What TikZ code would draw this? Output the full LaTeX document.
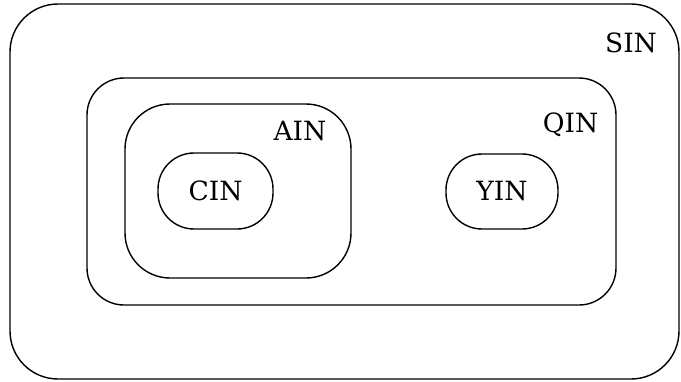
\documentclass[tikz,border=0pt]{standalone}
\usepackage{fontspec}
\newfontfamily\regionfont{DejaVu Serif}
\begin{document}
\begin{tikzpicture}[x=1pt,y=-1pt,
  region/.style={draw=black, line width=1.4pt, inner sep=0pt, outer sep=0pt},
  tag/.style={font=\regionfont\fontsize{26.5}{31}\selectfont, inner sep=0pt}]
\useasboundingbox (0,0) rectangle (681,381);
% nested regions
\node[region, rounded corners=48pt, minimum width=669pt, minimum height=375pt] (sin) at (344.5,191.5) {};
\node[region, rounded corners=37pt, minimum width=529pt, minimum height=227pt] (qin) at (351.5,191.5) {};
\node[region, rounded corners=45pt, minimum width=226pt, minimum height=174pt] (ain) at (238,191) {};
\node[region, rounded corners=36pt, minimum width=115pt, minimum height=76pt, tag] (cin) at (215.5,191) {CIN};
\node[region, rounded corners=36pt, minimum width=112pt, minimum height=75pt, tag] (yin) at (502,191.5) {YIN};
% region names, placed on their baselines
\node[tag, anchor=base] (sinlab) at (631,52) {SIN};
\node[tag, anchor=base] (qinlab) at (570.5,132) {QIN};
\node[tag, anchor=base] (ainlab) at (300,140.5) {AIN};
\end{tikzpicture}
\end{document}
